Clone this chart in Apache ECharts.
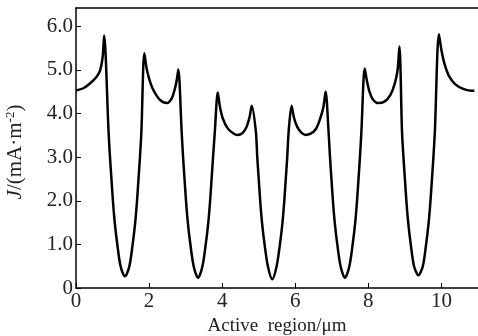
<!DOCTYPE html>
<html><head><meta charset="utf-8">
<script src="https://cdn.jsdelivr.net/npm/echarts@6/dist/echarts.min.js"></script>
<style>html,body{margin:0;padding:0;background:#fff}#c{width:478px;height:336px}</style>
</head><body><div id="c"></div>
<script>
const xValues = [
  0,0.2,0.38,0.56,0.66,0.73,0.77,
  0.89,0.93,0.97,1.01,1.06,1.13,1.22,1.34,1.46,1.55,1.62,1.67,1.71,1.75,1.79,
  1.87,1.93,2.0,2.11,2.29,2.49,2.62,2.70,2.76,2.80,
  2.89,2.93,2.97,3.01,3.06,3.13,3.22,3.34,3.46,3.55,3.62,3.67,3.71,3.75,3.80,
  3.88,3.94,4.02,4.15,4.30,4.42,4.55,4.66,4.75,4.81,
  4.92,4.96,5.0,5.04,5.09,5.16,5.25,5.37,5.49,5.58,5.65,5.70,5.74,5.78,5.82,
  5.90,5.96,6.05,6.16,6.28,6.42,6.56,6.68,6.77,6.83,
  6.91,6.95,6.99,7.03,7.08,7.15,7.24,7.36,7.48,7.57,7.64,7.69,7.73,7.77,7.81,
  7.90,7.96,8.03,8.12,8.27,8.45,8.60,8.72,8.80,8.85,
  8.92,8.96,9.0,9.04,9.09,9.16,9.25,9.37,9.49,9.58,9.65,9.70,9.74,9.78,9.82,
  9.93,10.0,10.08,10.2,10.38,10.61,10.84,10.9
];
const jValues = [
  4.53,4.58,4.69,4.84,4.99,5.3,5.79,
  3.6,3.0,2.5,2.0,1.5,1.0,0.5,0.27,0.5,1.0,1.5,2.0,2.5,3.0,3.6,
  5.38,5.05,4.8,4.55,4.32,4.24,4.35,4.55,4.78,5.01,
  3.6,3.0,2.5,2.0,1.5,1.0,0.5,0.23,0.5,1.0,1.5,2.0,2.5,3.0,3.6,
  4.48,4.15,3.88,3.66,3.55,3.51,3.55,3.68,3.92,4.18,
  3.6,3.0,2.5,2.0,1.5,1.0,0.5,0.2,0.5,1.0,1.5,2.0,2.5,3.0,3.6,
  4.18,3.92,3.7,3.57,3.51,3.54,3.64,3.88,4.15,4.5,
  3.6,3.0,2.5,2.0,1.5,1.0,0.5,0.23,0.5,1.0,1.5,2.0,2.5,3.0,3.6,
  5.03,4.75,4.5,4.33,4.24,4.28,4.42,4.68,5.0,5.54,
  3.6,3.0,2.5,2.0,1.5,1.0,0.5,0.29,0.5,1.0,1.5,2.0,2.5,3.0,3.6,
  5.82,5.45,5.15,4.87,4.67,4.56,4.52,4.52
];
const xTickLabels = ['0','2','4','6','8','10'];
const yTickLabels = ['0','1.0','2.0','3.0','4.0','5.0','6.0'];
const xTitle = 'Active  region/μm';

const serif = '"Liberation Serif", "DejaVu Serif", serif';
const chart = echarts.init(document.getElementById('c'), null, {renderer: 'canvas'});
const data = xValues.map((x, i) => [x, jValues[i]]);
chart.setOption({
  animation: false,
  backgroundColor: '#fff',
  grid: {left: 76, right: 0, top: 8, bottom: 48, containLabel: false, outerBoundsMode: 'none'},
  xAxis: [{
    type: 'value', min: 0, max: 11, interval: 2,
    axisLine: {show: true, lineStyle: {color: '#000', width: 1.5}},
    axisTick: {show: true, inside: true, length: 5, lineStyle: {color: '#000', width: 1}},
    splitLine: {show: false},
    axisLabel: {
      color: '#222', fontFamily: serif, fontSize: 21, margin: 3, showMaxLabel: false,
      formatter: v => { const i = xTickLabels.indexOf(String(v)); return i >= 0 ? xTickLabels[i] : ''; }
    },
    name: xTitle, nameLocation: 'middle', nameGap: 28,
    nameTextStyle: {color: '#222', fontFamily: serif, fontSize: 19}
  }, {
    type: 'value', min: 0, max: 11, position: 'top',
    axisLine: {show: true, lineStyle: {color: '#000', width: 1.5}},
    axisTick: {show: false}, axisLabel: {show: false}, splitLine: {show: false}
  }],
  yAxis: {
    type: 'value', min: 0, max: 6.42, interval: 1,
    axisLine: {show: true, lineStyle: {color: '#000', width: 1.5}},
    axisTick: {show: true, inside: true, length: 5, lineStyle: {color: '#000', width: 1}},
    splitLine: {show: false},
    axisLabel: {
      color: '#222', fontFamily: serif, fontSize: 21, margin: 3, showMaxLabel: false,
      formatter: v => { const k = Math.round(v); return (Math.abs(v - k) < 1e-6 && k < yTickLabels.length) ? yTickLabels[k] : ''; }
    },
    name: '{i|J}{n|/(mA·m}{s|-2}{n|)}', nameLocation: 'middle', nameGap: 50, nameRotate: 90,
    nameTextStyle: {
      color: '#222', fontFamily: serif, fontSize: 21, padding: [0, 8, 0, 0],
      rich: {
        i: {fontFamily: serif, fontSize: 21, fontStyle: 'italic', color: '#222'},
        n: {fontFamily: serif, fontSize: 21, color: '#222'},
        s: {fontFamily: serif, fontSize: 13, color: '#222', verticalAlign: 'top', padding: [0, 0, 9, 0]}
      }
    }
  },
  series: [{
    type: 'line', data: data, showSymbol: false, symbol: 'none',
    smooth: 0.3,
    lineStyle: {color: '#000', width: 2.5}
  }]
});
</script></body></html>
